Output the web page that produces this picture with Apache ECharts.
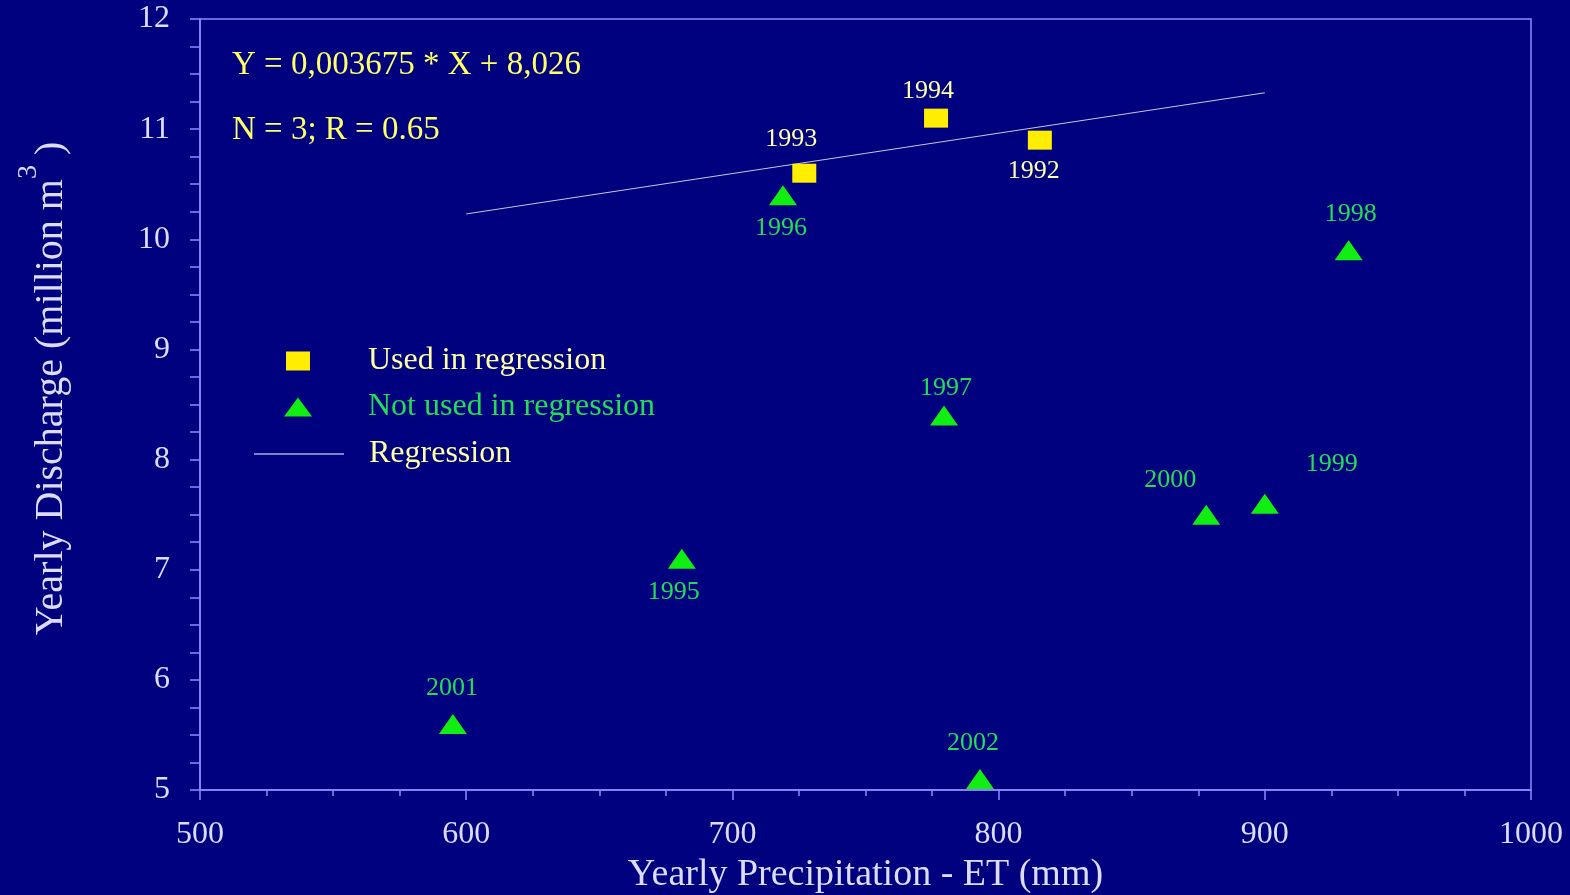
<!DOCTYPE html>
<html>
<head>
<meta charset="utf-8">
<script src="https://cdn.jsdelivr.net/npm/echarts@6/dist/echarts.min.js"></script>
<style>
  html, body { margin: 0; padding: 0; background: #00017f; }
  #main { width: 1570px; height: 895px; }
</style>
</head>
<body>
<div id="main"></div>
<script>
// years used in the regression (yellow squares)
const usedYears = ['1993', '1994', '1992'];
const usedX = [727, 776.5, 815.5];
const usedY = [10.6, 11.1, 10.9];

// years not used (green triangles)
const otherYears = ['1996', '1998', '1997', '2000', '1999', '1995', '2001', '2002'];
const otherX = [719, 931.5, 779.5, 878, 900, 681, 595, 793];
const otherY = [10.4, 9.9, 8.4, 7.5, 7.6, 7.1, 5.6, 5.1];

// regression line end points
const regX = [600, 900];
const regY = [10.23, 11.33];

const xTicks = [500, 600, 700, 800, 900, 1000];
const yTicks = [5, 6, 7, 8, 9, 10, 11, 12];

// where each year's label sits relative to its marker (px)
const labelOffset = {
    '1993': [-13, -34], '1994': [-8, -27], '1992': [-6, 31],
    '1996': [-2, 33], '1998': [2, -36], '1997': [2, -27],
    '2000': [-36, -34], '1999': [67, -39], '1995': [-8, 33],
    '2001': [-1, -36], '2002': [-7, -36]
};

const serif = '"Liberation Serif", "Times New Roman", serif';
const axisColor = '#8c8cff';
const textColor = '#dcdcff';

function points(xs, ys, years, color) {
    return xs.map((x, i) => ({
        value: [x, ys[i]],
        name: years[i],
        label: {
            show: true,
            position: 'inside',
            offset: labelOffset[years[i]],
            formatter: years[i],
            color: color,
            fontFamily: serif,
            fontSize: 26
        }
    }));
}

let myChart = echarts.init(document.getElementById('main'));
const options = {
    backgroundColor: '#00017f',
    animation: false,
    grid: {
        left: 200, right: 39, top: 19, bottom: 105,
        outerBoundsMode: 'none', containLabel: false,
        show: true, borderColor: axisColor, borderWidth: 1.5
    },
    legend: [
        {
            data: ['Used in regression'],
            left: 281, top: 340,
            itemWidth: 24, itemHeight: 19,
            textStyle: { color: '#ffffa0', fontFamily: serif, fontSize: 32, padding: [0, 0, 0, 53] }
        },
        {
            data: ['Not used in regression'],
            left: 279, top: 386,
            itemWidth: 28, itemHeight: 19,
            textStyle: { color: '#22dd55', fontFamily: serif, fontSize: 32, padding: [0, 0, 0, 51] }
        },
        {
            data: ['Regression'],
            left: 248, top: 433,
            itemWidth: 90, itemHeight: 14,
            lineStyle: { color: '#8080c8', width: 2 },
            itemStyle: { opacity: 0, borderWidth: 0 },
            textStyle: { color: '#ffffa0', fontFamily: serif, fontSize: 32, padding: [0, 0, 0, 20] }
        }
    ],
    graphic: [
        {
            type: 'text', left: 232, top: 49,
            style: { text: 'Y = 0,003675 * X + 8,026', fill: '#ffff66', font: '33px ' + serif }
        },
        {
            type: 'text', left: 232, top: 114,
            style: { text: 'N = 3; R = 0.65', fill: '#ffff66', font: '33px ' + serif }
        }
    ],
    xAxis: {
        type: 'value', min: 500, max: 1000, interval: 100,
        name: 'Yearly Precipitation - ET (mm)',
        nameLocation: 'middle', nameGap: 64,
        nameTextStyle: { color: textColor, fontFamily: serif, fontSize: 38 },
        axisLine: { show: true, lineStyle: { color: axisColor, width: 1.5 } },
        axisTick: { show: true, length: 10, lineStyle: { color: axisColor, width: 1.5 } },
        minorTick: { show: true, splitNumber: 4, length: 6, lineStyle: { color: axisColor, width: 1.5 } },
        axisLabel: { color: textColor, fontFamily: serif, fontSize: 32, margin: 29,
            customValues: xTicks, formatter: v => String(v) },
        splitLine: { show: false }
    },
    yAxis: {
        type: 'value', min: 5, max: 12, interval: 1,
        name: 'Yearly Discharge (million m{sup|3} )',
        nameLocation: 'middle', nameGap: 113, nameRotate: 90,
        nameTextStyle: {
            color: textColor, fontFamily: serif, fontSize: 40,
            padding: [0, 0, 0, 32],
            rich: { sup: { color: textColor, fontFamily: serif, fontSize: 28, verticalAlign: 'top', padding: [0, 0, 44, 0] } }
        },
        axisLine: { show: true, lineStyle: { color: axisColor, width: 1.5 } },
        axisTick: { show: true, length: 10, lineStyle: { color: axisColor, width: 1.5 } },
        minorTick: { show: true, splitNumber: 4, length: 10, lineStyle: { color: axisColor, width: 1.5 } },
        axisLabel: { color: textColor, fontFamily: serif, fontSize: 32, margin: 30,
            customValues: yTicks },
        splitLine: { show: false }
    },
    series: [
        {
            name: 'Regression',
            type: 'line',
            data: regX.map((x, i) => [x, regY[i]]),
            showSymbol: false,
            symbol: 'none',
            lineStyle: { color: '#c8c8dc', width: 1 },
            itemStyle: { color: '#8080c8' },
            z: 1
        },
        {
            name: 'Used in regression',
            type: 'scatter',
            symbol: 'rect',
            symbolSize: [24, 19],
            itemStyle: { color: '#ffee00', opacity: 1 },
            data: points(usedX, usedY, usedYears, '#ffffa8'),
            z: 3
        },
        {
            name: 'Not used in regression',
            type: 'scatter',
            symbol: 'triangle',
            symbolSize: [28, 20],
            itemStyle: { color: '#11ee11', opacity: 1 },
            data: points(otherX, otherY, otherYears, '#22dd55'),
            z: 2
        }
    ]
};
myChart.setOption(options);
</script>
</body>
</html>
